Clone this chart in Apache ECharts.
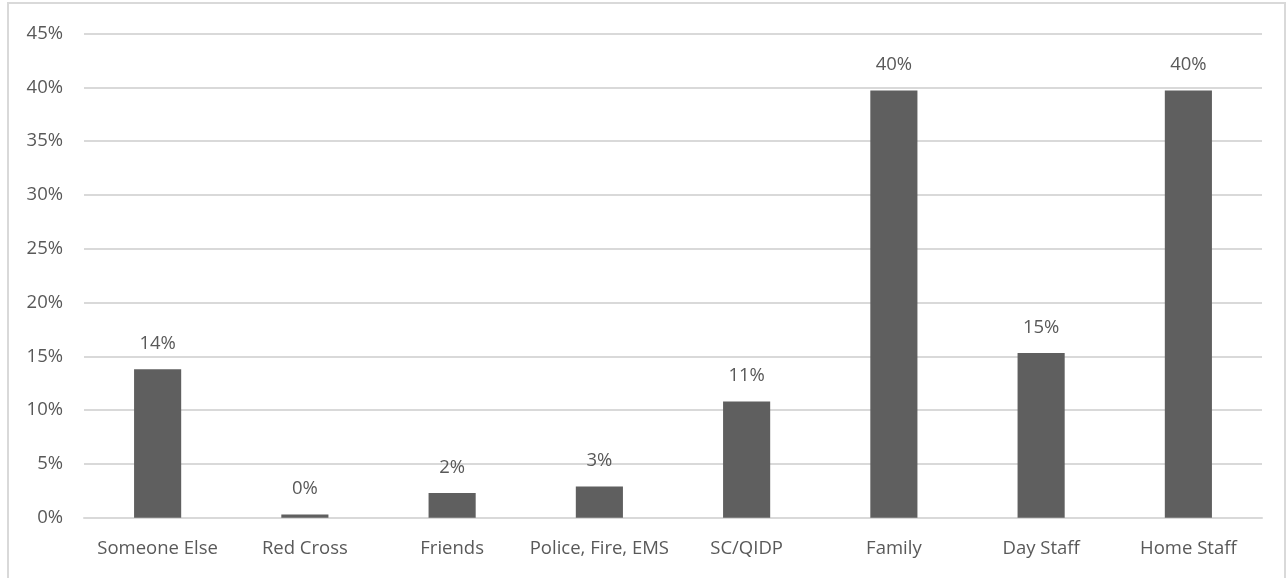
<!DOCTYPE html>
<html>
<head>
<meta charset="utf-8">
<script src="https://cdn.jsdelivr.net/npm/echarts@6/dist/echarts.min.js"></script>
<style>
  html, body { margin: 0; padding: 0; background: #ffffff; }
  #chart { width: 1288px; height: 578px; }
</style>
</head>
<body>
<div id="chart"></div>
<script>
// Who people contact (share of responses, %)
const categories = ['Someone Else', 'Red Cross', 'Friends', 'Police, Fire, EMS', 'SC/QIDP', 'Family', 'Day Staff', 'Home Staff'];
const shares = [13.8, 0.3, 2.3, 2.9, 10.8, 39.7, 15.3, 39.7];
const yTicks = [0, 5, 10, 15, 20, 25, 30, 35, 40, 45];

const textColor = '#595959';
const font = 'Open Sans';
const fontSize = 18.5;

const chart = echarts.init(document.getElementById('chart'), null, { renderer: 'canvas' });
chart.setOption({
  animation: false,
  backgroundColor: '#ffffff',
  graphic: [{
    type: 'rect',
    shape: { x: 8, y: 3, width: 1277, height: 620 },
    style: { fill: 'none', stroke: '#d9d9d9', lineWidth: 2 },
    silent: true
  }],
  grid: { left: 84, right: 26, top: 33.5, bottom: 60.3, containLabel: false },
  xAxis: {
    type: 'category',
    data: categories,
    axisLine: { show: true, lineStyle: { color: '#d9d9d9', width: 2 } },
    axisTick: { show: false },
    axisLabel: { color: textColor, fontFamily: font, fontSize: fontSize, margin: 22, interval: 0 }
  },
  yAxis: {
    type: 'value',
    min: yTicks[0],
    max: yTicks[yTicks.length - 1],
    interval: 5,
    axisLine: { show: false },
    axisTick: { show: false },
    splitLine: { lineStyle: { color: '#d9d9d9', width: 2 } },
    axisLabel: { color: textColor, fontFamily: font, fontSize: fontSize, margin: 21, formatter: v => v + '%' }
  },
  series: [{
    type: 'bar',
    data: shares,
    barWidth: '32%',
    itemStyle: { color: '#5f5f5f' },
    label: {
      show: true,
      position: 'top',
      distance: 16,
      color: textColor,
      fontFamily: font,
      fontSize: fontSize,
      formatter: p => Math.round(p.value) + '%'
    }
  }]
});
</script>
</body>
</html>
